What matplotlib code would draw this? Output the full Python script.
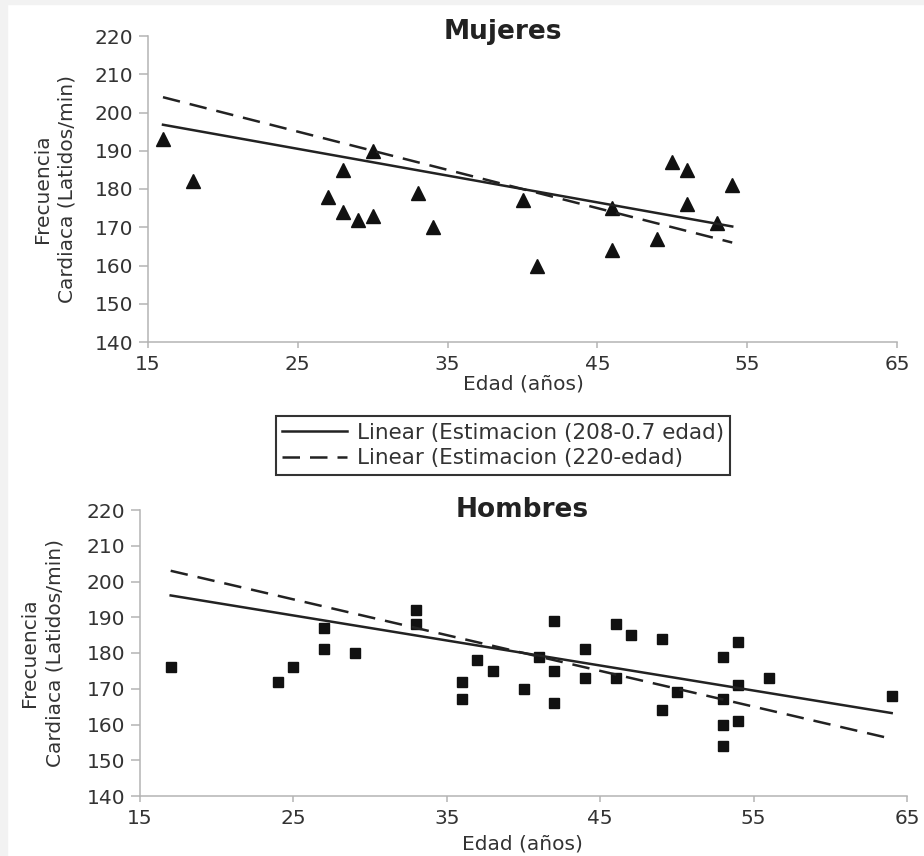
import numpy as np
import matplotlib
matplotlib.use("Agg")
import matplotlib.pyplot as plt
from matplotlib.patches import Rectangle

# datos
edad_m = [16, 18, 27, 28, 28, 29, 30, 30, 33, 34, 40, 41, 46, 46, 49, 50, 51, 51, 53, 54]
fc_m = [193, 182, 178, 185, 174, 172, 173, 190, 179, 170, 177, 160, 175, 164, 167, 187, 185, 176, 171, 181]

edad_h = [17, 24, 25, 27, 27, 29, 33, 33, 36, 36, 37, 38, 40, 41, 42, 42, 42, 44, 44,
          46, 46, 47, 49, 49, 50, 53, 53, 53, 53, 54, 54, 54, 56, 64]
fc_h = [176, 172, 176, 187, 181, 180, 192, 188, 172, 167, 178, 175, 170, 179, 189, 175, 166, 181, 173,
        188, 173, 185, 184, 164, 169, 179, 167, 160, 154, 183, 171, 161, 173, 168]

est1 = (208, -0.7)   # 208-0.7 edad
est2 = (220, -1.0)   # 220-edad
labels = ["Linear (Estimacion (208-0.7 edad)", "Linear (Estimacion (220-edad)"]
xticks = [15, 25, 35, 45, 55, 65]
yticks = [140, 150, 160, 170, 180, 190, 200, 210, 220]

W, H = 924, 856
fig = plt.figure(figsize=(W/100, H/100), dpi=100)
fig.patch.set_facecolor("white")
fig.patches.append(Rectangle((0, 0), 7/W, 1, transform=fig.transFigure, color="#f2f2f2", zorder=-1))
fig.patches.append(Rectangle((0, 1-4/H), 1, 4/H, transform=fig.transFigure, color="#f2f2f2", zorder=-1))

fs = 14.5
tcol = "#333333"
scol = "#b4b4b4"

def panel(rect, x, y, marker, msize):
    ax = fig.add_axes(rect)
    ax.plot(x, y, linestyle="none", marker=marker, markersize=msize, color="#111111", zorder=2)
    xs = np.array([min(x), max(x)])
    l1, = ax.plot(xs, est1[0] + est1[1]*xs, color="#222222", lw=1.8, zorder=3)
    l2, = ax.plot(xs, est2[0] + est2[1]*xs, color="#222222", lw=1.8, dashes=(7, 4), zorder=3)
    ax.set_xlim(15, 65); ax.set_ylim(140, 220)
    ax.set_xticks(xticks); ax.set_yticks(yticks)
    for s in ["top", "right"]:
        ax.spines[s].set_visible(False)
    for s in ["left", "bottom"]:
        ax.spines[s].set_color(scol); ax.spines[s].set_linewidth(1.1)
    ax.tick_params(axis="x", direction="out", length=4.5, width=1.1, color=scol,
                   labelsize=fs, labelcolor=tcol, pad=5)
    ax.tick_params(axis="y", direction="out", length=6.5, width=1.1, color=scol,
                   labelsize=fs, labelcolor=tcol, pad=4)
    ax.set_facecolor("none")
    return ax, l1, l2

# Mujeres
ax1, l1, l2 = panel([148/W, 1-342/H, 749/W, 306/H], edad_m, fc_m, "^", 9.5)
fig.text(503/W, 1-39/H, "Mujeres", ha="center", va="baseline", fontsize=19,
         fontweight="bold", color="#222222")
fig.text(523/W, 1-384/H, "Edad (años)", ha="center", va="center", fontsize=fs, color=tcol)
fig.text(55/W, 1-189/H, "Frecuencia\nCardiaca (Latidos/min)", rotation=90, ha="center",
         va="center", multialignment="center", fontsize=fs, color=tcol, linespacing=1.35)

# Hombres
ax2, _, _ = panel([140/W, 1-796/H, 767/W, 286/H], edad_h, fc_h, "s", 7.5)
fig.text(522/W, 1-517/H, "Hombres", ha="center", va="baseline", fontsize=19,
         fontweight="bold", color="#222222")
fig.text(522/W, 1-844/H, "Edad (años)", ha="center", va="center", fontsize=fs, color=tcol)
fig.text(42/W, 1-653/H, "Frecuencia\nCardiaca (Latidos/min)", rotation=90, ha="center",
         va="center", multialignment="center", fontsize=fs, color=tcol, linespacing=1.45)

leg = fig.legend([l1, l2], labels, loc="center", bbox_to_anchor=(503/W, 1-445.5/H),
                 fontsize=15.5, frameon=True, fancybox=False, framealpha=1,
                 handlelength=3.0, handletextpad=0.46, labelspacing=0.25,
                 borderpad=0.3, borderaxespad=0)
leg.get_frame().set_edgecolor("#333333")
leg.get_frame().set_linewidth(1.5)
for t in leg.get_texts():
    t.set_color(tcol)

fig.savefig("out.png", dpi=100, facecolor=fig.get_facecolor())
